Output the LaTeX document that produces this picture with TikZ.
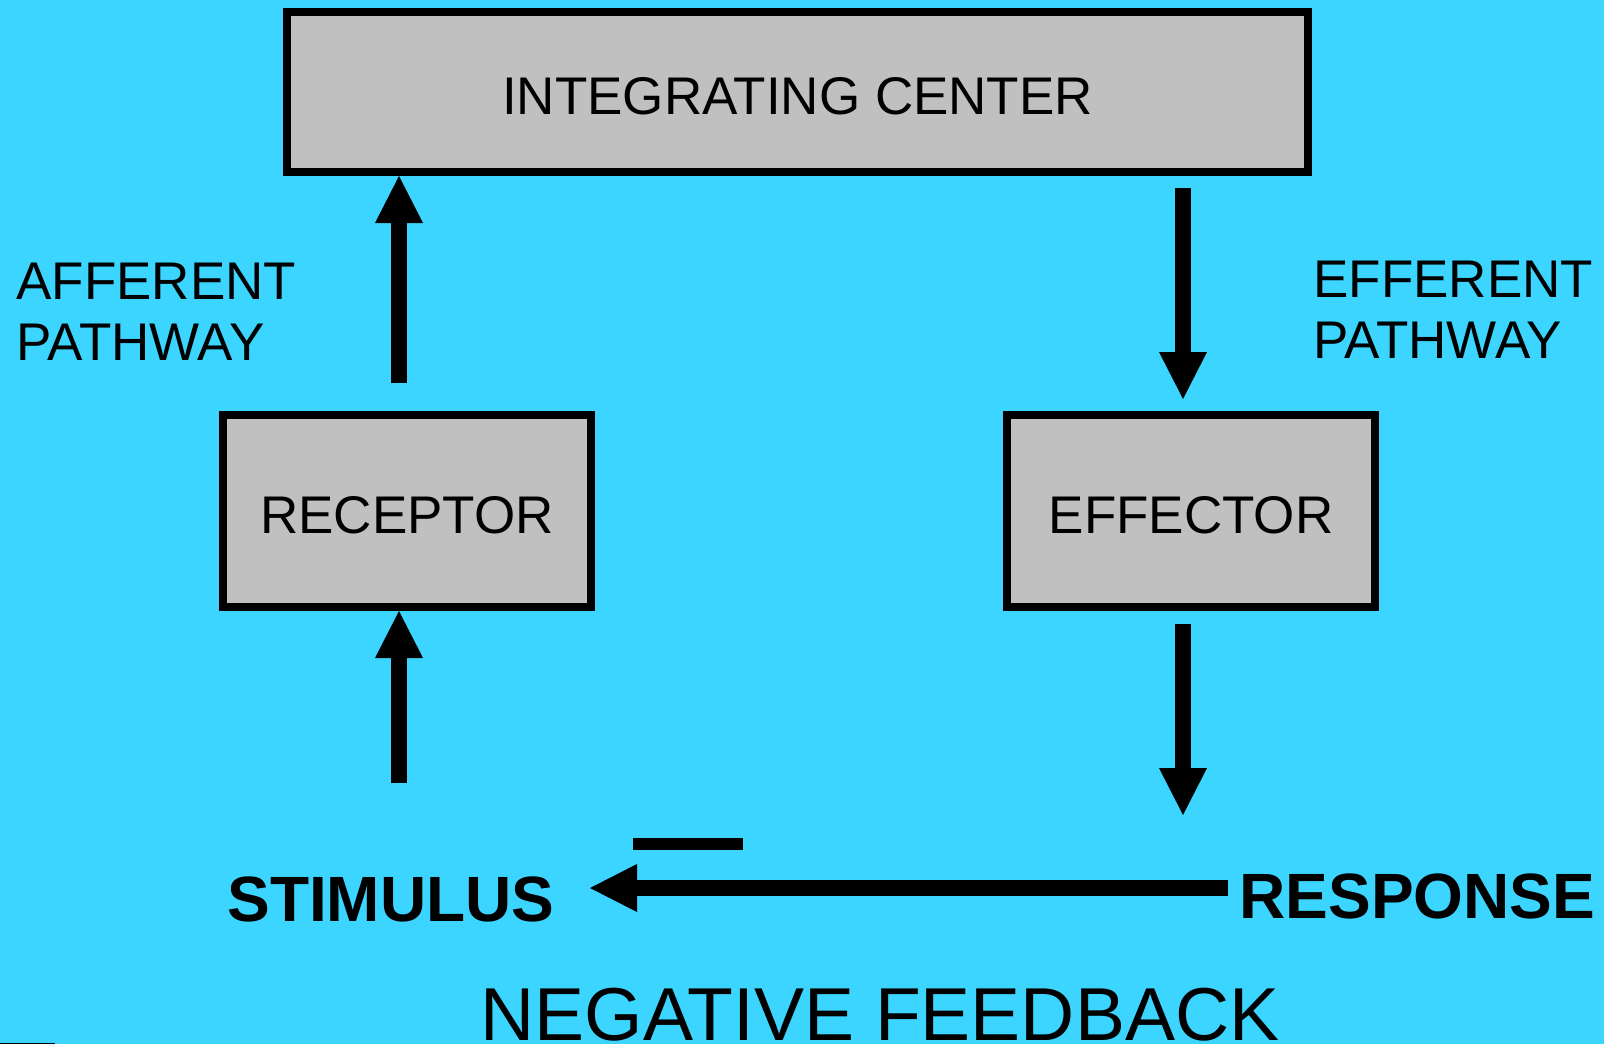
\documentclass[tikz,border=0pt]{standalone}
\usepackage{fontspec}
\setmainfont{Liberation Sans}
\usepackage{tikz}
\usetikzlibrary{arrows.meta,positioning}
\definecolor{sky}{RGB}{59,213,255}
\definecolor{boxgray}{RGB}{192,192,192}

\begin{document}
\begin{tikzpicture}[x=0.5pt,y=-0.5pt,inner sep=0pt]
  \fill[sky](0,0)rectangle(1604,1044);
  \useasboundingbox(0,0)rectangle(1604,1044);
  \tikzstyle{b}=[draw,line width=4pt,fill=boxgray,text height=22.5pt]
  \tikzstyle{t}=[font=\fontsize{26.5}{30.5}\selectfont]
  \tikzstyle{bt}=[font=\fontsize{32}{36}\selectfont\bfseries]
  \node[b,t,minimum width=510.5pt,minimum height=80pt](ic)at(797.5,92){INTEGRATING CENTER};
  \node[b,t,minimum width=184pt,minimum height=96pt](rec)at(407,511){RECEPTOR};
  \node[b,t,minimum width=184pt,minimum height=96pt](eff)at(1191,511){EFFECTOR};
  \node[t,anchor=west,align=left](aff)at(16,312){AFFERENT\\PATHWAY};
  \node[t,anchor=west,align=left](eff)at(1313,310){EFFERENT\\PATHWAY};
  \node[bt,anchor=base west](stim)at(227,921){STIMULUS};
  \node[bt,anchor=base west](resp)at(1239,918){RESPONSE};
  \node[font=\fontsize{37.5}{40}\selectfont,anchor=base](neg)at(880,1040){NEGATIVE FEEDBACK};
  \coordinate(a1)at(399,383);\coordinate(a2)at(399,176);
  \coordinate(s1)at(399,783);\coordinate(s2)at(399,611);
  \coordinate(e1)at(1183,188);\coordinate(e2)at(1183,399);
  \coordinate(r1)at(1183,624);\coordinate(r2)at(1183,815);
  \coordinate(h1)at(1228,888);\coordinate(h2)at(590,888);
  \tikzstyle{e}=[-{Triangle[length=23.5pt,width=24pt,line width=0pt]},draw=black,line width=8pt]
  \foreach\o/\d in{a1/a2,s1/s2,e1/e2,r1/r2,h1/h2}{\draw[e](\o)--(\d);}
  \draw[line width=6pt](633,844)--(743,844);
  \draw[line width=0.5pt](0,1043.5)--(55,1043.5);
\end{tikzpicture}
\end{document}
